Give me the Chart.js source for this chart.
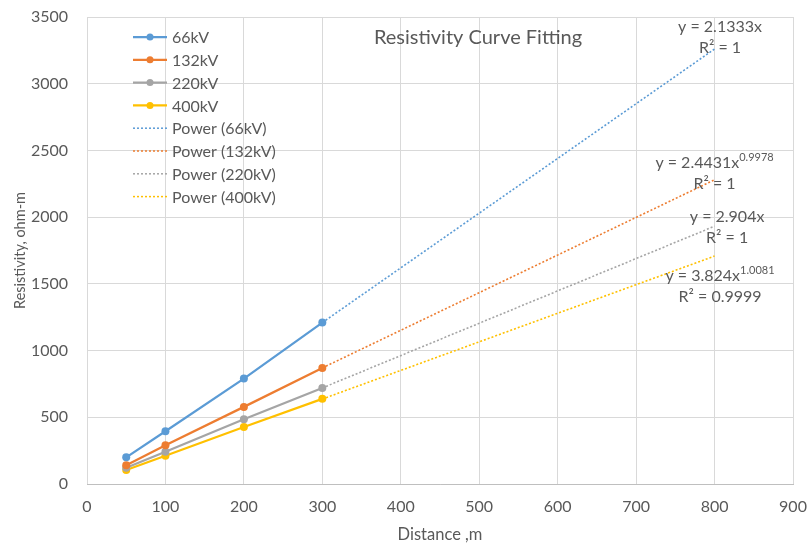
<!DOCTYPE html>
<html>
<head>
<meta charset="utf-8">
<script src="https://cdn.jsdelivr.net/npm/chart.js@4/dist/chart.umd.min.js"></script>
<style>
  html, body { margin: 0; padding: 0; background: #fff; }
  #wrap { width: 809px; height: 543px; }
</style>
</head>
<body>
<div id="wrap"><canvas id="grafico" width="809" height="543"></canvas></div>
<script>
// datos medidos
const distancias = [50, 100, 200, 300];
const kv66 = [200, 395, 790, 1210];
const kv132 = [140, 290, 578, 870];
const kv220 = [122, 242, 485, 720];
const kv400 = [105, 212, 427, 638];

// lineas de tendencia (potencia), prolongadas hasta 800
const distTendencia = [300, 800];
const tend66 = [1210, 3260];
const tend132 = [870, 2280];
const tend220 = [720, 1932];
const tend400 = [637, 1708];

const series = ["66kV", "132kV", "220kV", "400kV"];
const colores = ["#5B9BD5", "#ED7D31", "#A5A5A5", "#FFC000"];

// ecuaciones (base, exponente, R2) y su posicion en unidades del grafico
const ecuaciones = [
  { base: "y = 2.1333x", exp: "", r2: "R² = 1", x: 807, y: 3425 },
  { base: "y = 2.4431x", exp: "0.9978", r2: "R² = 1", x: 800, y: 2406 },
  { base: "y = 2.904x", exp: "", r2: "R² = 1", x: 816, y: 2001 },
  { base: "y = 3.824x", exp: "1.0081", r2: "R² = 0.9999", x: 807, y: 1559 }
];

const xTicks = [0, 100, 200, 300, 400, 500, 600, 700, 800, 900];

const FONT = "Lato, 'Open Sans', sans-serif";
const GRIS = "#595959";

function puntos(xs, ys) {
  return xs.map((x, i) => ({ x: x, y: ys[i] }));
}

const medidos = [kv66, kv132, kv220, kv400];
const tendencias = [tend66, tend132, tend220, tend400];

const datasets = [];
series.forEach((s, i) => {
  datasets.push({
    label: s,
    data: puntos(distancias, medidos[i]),
    showLine: true,
    borderColor: colores[i],
    backgroundColor: colores[i],
    borderWidth: 2.25,
    pointRadius: 4,
    pointBorderWidth: 0
  });
});
series.forEach((s, i) => {
  datasets.push({
    label: "Power (" + s + ")",
    data: puntos(distTendencia, tendencias[i]),
    showLine: true,
    borderColor: colores[i],
    borderWidth: 1.6,
    borderDash: [2, 2],
    pointRadius: 0
  });
});

/* ------------ leyenda, titulo y ecuaciones ------------ */
const extras = {
  id: "extras",
  afterDraw(chart) {
    const ctx = chart.ctx;
    const xs = chart.scales.x;
    const ys = chart.scales.y;
    const area = chart.chartArea;
    ctx.save();

    // titulo dentro del area
    ctx.fillStyle = GRIS;
    ctx.font = "20px " + FONT;
    ctx.textAlign = "center";
    ctx.textBaseline = "middle";
    ctx.fillText("Resistivity Curve Fitting", area.left + 391, area.top + 21);

    // leyenda
    const lx = area.left + 46;
    let ly = area.top + 20;
    ctx.font = "16px " + FONT;
    ctx.textAlign = "left";
    chart.data.datasets.forEach((ds) => {
      ctx.strokeStyle = ds.borderColor;
      ctx.lineWidth = ds.borderDash ? 1.5 : 2.25;
      ctx.setLineDash(ds.borderDash || []);
      ctx.beginPath();
      ctx.moveTo(lx, ly);
      ctx.lineTo(lx + 34, ly);
      ctx.stroke();
      ctx.setLineDash([]);
      if (!ds.borderDash) {
        ctx.fillStyle = ds.borderColor;
        ctx.beginPath();
        ctx.arc(lx + 17, ly, 3.5, 0, Math.PI * 2);
        ctx.fill();
      }
      ctx.fillStyle = GRIS;
      ctx.fillText(ds.label, lx + 39, ly + 1);
      ly += 22.8;
    });

    // ecuaciones de tendencia
    ecuaciones.forEach((e) => {
      const cx = xs.getPixelForValue(e.x);
      const cy = ys.getPixelForValue(e.y);
      ctx.font = "16px " + FONT;
      const wb = ctx.measureText(e.base).width;
      ctx.font = "11px " + FONT;
      const we = e.exp ? ctx.measureText(e.exp).width : 0;
      const x0 = cx - (wb + we) / 2;
      ctx.fillStyle = GRIS;
      ctx.textAlign = "left";
      ctx.font = "16px " + FONT;
      ctx.fillText(e.base, x0, cy);
      if (e.exp) {
        ctx.font = "11px " + FONT;
        ctx.fillText(e.exp, x0 + wb, cy - 6);
      }
      ctx.font = "16px " + FONT;
      ctx.textAlign = "center";
      ctx.fillText(e.r2, cx, cy + 21);
    });

    ctx.restore();
  }
};

/* ------------ grafico ------------ */
new Chart(document.getElementById("grafico"), {
  type: "scatter",
  data: { datasets: datasets },
  options: {
    responsive: false,
    animation: false,
    layout: { padding: { left: 0, right: 16, top: 17, bottom: 0 } },
    plugins: {
      legend: { display: false },
      tooltip: { enabled: false }
    },
    scales: {
      x: {
        type: "linear",
        min: 0,
        max: 900,
        afterBuildTicks: (s) => { s.ticks = xTicks.map(v => ({ value: v })); },
        afterFit: (s) => {
          s.height = 59;
          s.paddingRight = 4;
          s.paddingLeft = 4;
        },
        grid: { color: "#d9d9d9", drawTicks: false },
        border: { color: "#bfbfbf" },
        ticks: {
          color: GRIS,
          font: { family: FONT, size: 16 },
          padding: 13,
          callback: (v) => String(v)
        },
        title: {
          display: true,
          text: "Distance ,m",
          color: GRIS,
          font: { family: FONT, size: 16.5 },
          padding: { top: 8, bottom: -2 }
        }
      },
      y: {
        min: 0,
        max: 3500,
        afterFit: (s) => {
          s.width = 87;
          s.paddingTop = 4;
          s.paddingBottom = 4;
        },
        grid: { color: "#d9d9d9", drawTicks: false },
        border: { display: false },
        ticks: {
          stepSize: 500,
          color: GRIS,
          font: { family: FONT, size: 16 },
          padding: 19,
          callback: (v) => String(v)
        },
        title: {
          display: true,
          text: "Resistivity, ohm-m",
          color: GRIS,
          font: { family: FONT, size: 14.5 },
          padding: { top: 12, bottom: 0 }
        }
      }
    }
  },
  plugins: [extras]
});
</script>
</body>
</html>
